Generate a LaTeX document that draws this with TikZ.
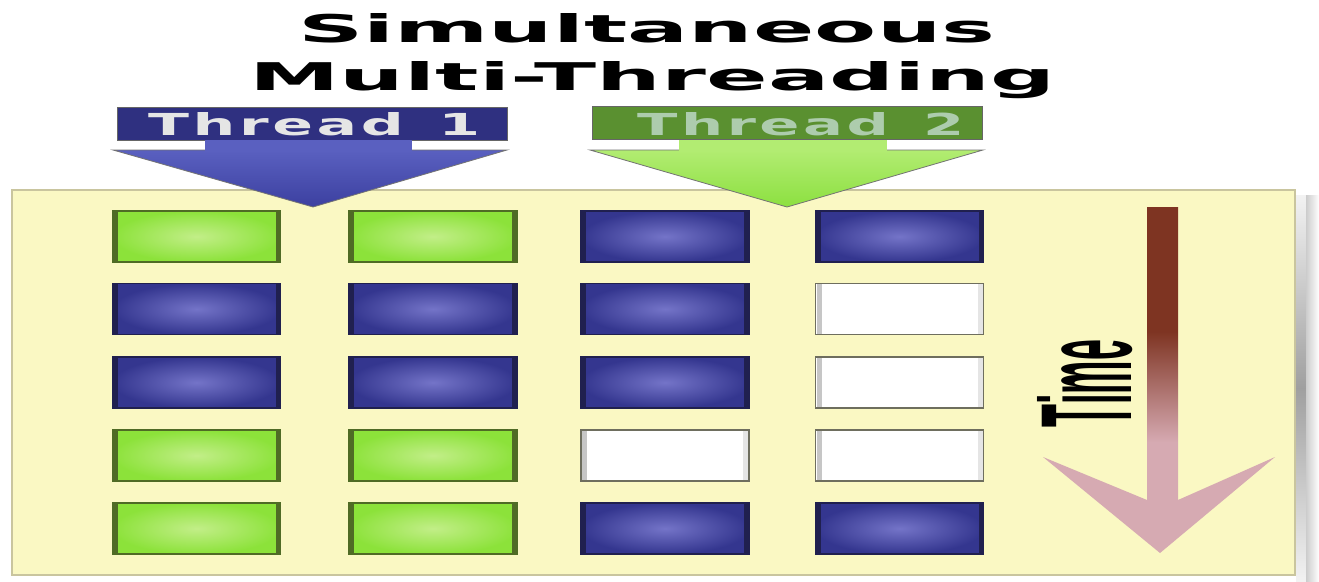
\documentclass[tikz,border=0pt]{standalone}
\usepackage{fontspec}
\usepackage{graphicx}
\newfontfamily\titlefont[LetterSpace=0]{DejaVu Sans}
\newfontfamily\threadfont[LetterSpace=6]{DejaVu Sans}
\newfontfamily\timefont{Liberation Sans}
\definecolor{panelc}{HTML}{FAF8C3}
\definecolor{paneledge}{HTML}{C9C59E}
\definecolor{ginner}{HTML}{C2EE88}
\definecolor{gouter}{HTML}{8CE23A}
\definecolor{gedge}{HTML}{4F6B25}
\definecolor{binner}{HTML}{7474C8}
\definecolor{bouter}{HTML}{34368F}
\definecolor{bedge}{HTML}{20204F}
\definecolor{wedge}{HTML}{6E6E5E}
\definecolor{bannerblue}{HTML}{2F3080}
\definecolor{bannergreen}{HTML}{5A9030}
\definecolor{arrowblueA}{HTML}{5A60C0}
\definecolor{arrowblueB}{HTML}{3C40A0}
\definecolor{arrowgreenA}{HTML}{B2EC72}
\definecolor{arrowgreenB}{HTML}{8CE040}
\definecolor{tbrown}{HTML}{7E3422}
\definecolor{tpink}{HTML}{D6AAB2}
\pgfdeclareverticalshading{timeshade}{100bp}{color(0bp)=(tpink); color(41bp)=(tpink); color(57bp)=(tbrown); color(100bp)=(tbrown)}
\tikzset{
  cell/.style={rectangle, minimum width=168pt, minimum height=51pt, inner sep=0pt, line width=1.2pt},
  gcell/.style={cell, draw=gedge, inner color=ginner, outer color=gouter,
    path picture={\fill[gedge] (path picture bounding box.north west) rectangle ([xshift=5pt]path picture bounding box.south west);
                  \fill[gedge] (path picture bounding box.north east) rectangle ([xshift=-5pt]path picture bounding box.south east);}},
  bcell/.style={cell, draw=bedge, inner color=binner, outer color=bouter,
    path picture={\fill[bedge] (path picture bounding box.north west) rectangle ([xshift=5pt]path picture bounding box.south west);
                  \fill[bedge] (path picture bounding box.north east) rectangle ([xshift=-5pt]path picture bounding box.south east);}},
  wcell/.style={cell, draw=wedge, fill=white,
    path picture={\fill[gray!45] ([xshift=1pt]path picture bounding box.north west) rectangle ([xshift=6pt]path picture bounding box.south west);
                  \fill[gray!20] ([xshift=-1pt]path picture bounding box.north east) rectangle ([xshift=-6pt]path picture bounding box.south east);}},
  banner/.style={rectangle, minimum width=390pt, minimum height=33pt, inner sep=0pt, draw=black!60, line width=0.8pt},
  txt/.style={anchor=base west, inner sep=0pt}
}
\begin{document}
\begin{tikzpicture}[x=1pt,y=-1pt]
\useasboundingbox (0,0) rectangle (1319,581);
\fill[white] (0,0) rectangle (1319,581);
% shadow at right
\shade[top color=gray!10, bottom color=gray!10, middle color=gray!75] (1296,195) rectangle (1307,581);
\shade[left color=gray!40, right color=white] (1306,195) rectangle (1319,581);
% panel
\filldraw[fill=panelc, draw=paneledge, line width=2pt] (12,190) rectangle (1295,575);
% title
\node[txt] (title1) at (298,42) {\resizebox{697pt}{29pt}{\titlefont\bfseries Simultaneous}};
\node[txt] (title2) at (249,90) {\resizebox{806pt}{29pt}{\titlefont\bfseries Multi-Threading}};
% thread 1
\node[banner, fill=bannerblue] (ban1) at (312,123.5) {};
\shade[top color=arrowblueA, bottom color=arrowblueB, draw=black!55, line width=0.8pt] (113,150) -- (507,150) -- (313,207) -- cycle;
\fill[arrowblueA] (205,140) rectangle (412,152);
\node[txt, text=gray!20] (thr1) at (148,135) {\resizebox{332pt}{23pt}{\threadfont\bfseries Thread\ \,1}};
% thread 2
\node[banner, fill=bannergreen] (ban2) at (787,123) {};
\shade[top color=arrowgreenA, bottom color=arrowgreenB, draw=black!55, line width=0.8pt] (590,150) -- (983,150) -- (787,207) -- cycle;
\fill[arrowgreenA] (679,140) rectangle (887,152);
\node[txt, text=white!80!green!60!gray] (thr2) at (637,135) {\resizebox{327pt}{23pt}{\threadfont\bfseries Thread\ \,2}};
% cells
\node[gcell] (r1c1) at (196.5,236.5) {};
\node[gcell] (r1c2) at (433,236.5) {};
\node[bcell] (r1c3) at (665,236.5) {};
\node[bcell] (r1c4) at (899.5,236.5) {};
\node[bcell] (r2c1) at (196.5,309) {};
\node[bcell] (r2c2) at (433,309) {};
\node[bcell] (r2c3) at (665,309) {};
\node[wcell] (r2c4) at (899.5,309) {};
\node[bcell] (r3c1) at (196.5,382.5) {};
\node[bcell] (r3c2) at (433,382.5) {};
\node[bcell] (r3c3) at (665,382.5) {};
\node[wcell] (r3c4) at (899.5,382.5) {};
\node[gcell] (r4c1) at (196.5,455.5) {};
\node[gcell] (r4c2) at (433,455.5) {};
\node[wcell] (r4c3) at (665,455.5) {};
\node[wcell] (r4c4) at (899.5,455.5) {};
\node[gcell] (r5c1) at (196.5,528.5) {};
\node[gcell] (r5c2) at (433,528.5) {};
\node[bcell] (r5c3) at (665,528.5) {};
\node[bcell] (r5c4) at (899.5,528.5) {};
% time arrow
\shade[shading=timeshade] (1147,207) -- (1147,500) -- (1043,457) -- (1160,553) -- (1275,457) -- (1178,500) -- (1178,207) -- cycle;
\node[rotate=90, anchor=base, inner sep=0pt] (time) at (1131,383.5) {\resizebox{87pt}{94pt}{\timefont\bfseries Time}};
\end{tikzpicture}
\end{document}
